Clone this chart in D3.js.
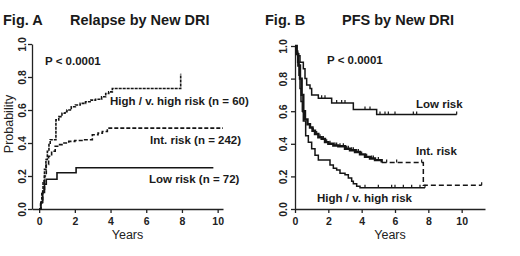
<!DOCTYPE html>
<html lang="en">
<head>
<meta charset="UTF-8">
<title>Relapse and PFS by New DRI</title>
<style>
    body { margin:0; background:#fff; }
    svg { display:block; font-family:"Liberation Sans", Arial, sans-serif; }
    .axis .domain, .axis line { stroke:#222; stroke-width:1.3; }
    .axis text { font-size:10.5px; font-weight:bold; fill:#222; }
</style>
</head>
<body>
<svg width="520" height="256"></svg>
<script src="https://d3js.org/d3.v7.min.js"></script>
<script>
// ---- data ----
var yTicks = [0, 0.2, 0.4, 0.6, 0.8, 1.0];
var xTicks = [0, 2, 4, 6, 8, 10];

// Fig A: cumulative relapse
var relHighT = [0, 0.08, 0.15, 0.22, 0.3, 0.38, 0.46, 0.55, 0.62, 0.94, 1.1, 1.28, 1.45, 1.56, 1.8, 2.03, 2.3, 2.6, 2.9, 3.16, 3.5, 3.73, 3.9, 4.1, 7.93];
var relHighV = [0, 0.03, 0.10, 0.17, 0.24, 0.30, 0.35, 0.39, 0.42, 0.54, 0.56, 0.58, 0.59, 0.60, 0.62, 0.63, 0.64, 0.65, 0.66, 0.665, 0.68, 0.70, 0.71, 0.73, 0.82];
var relIntT = [0, 0.1, 0.2, 0.3, 0.4, 0.53, 0.7, 0.9, 1.1, 1.28, 1.66, 2.0, 2.4, 2.98, 3.3, 3.54, 3.82, 10.3];
var relIntV = [0, 0.04, 0.12, 0.20, 0.27, 0.32, 0.35, 0.38, 0.39, 0.40, 0.41, 0.415, 0.42, 0.45, 0.46, 0.47, 0.49, 0.49];
var relLowT = [0, 0.1, 0.2, 0.3, 0.4, 1.0, 2.07, 9.76];
var relLowV = [0, 0.04, 0.10, 0.15, 0.18, 0.22, 0.25, 0.25];

// Fig B: progression free survival
var pfsLowT = [0, 0.1, 0.16, 0.3, 0.5, 0.6, 0.7, 0.9, 1.0, 1.4, 2.2, 3.5, 4.9, 9.7];
var pfsLowV = [1, 0.97, 0.94, 0.90, 0.86, 0.80, 0.76, 0.74, 0.70, 0.68, 0.65, 0.61, 0.58, 0.58];
var pfsLowCens = [1.6, 1.8, 2.5, 2.8, 3.0, 4.2, 4.5, 5.1, 5.4, 5.6, 6.0, 7.1, 7.3, 9.7];
var pfsIntT = [0, 0.1, 0.2, 0.3, 0.4, 0.5, 0.6, 0.75, 0.9, 1.05, 1.2, 1.4, 1.6, 1.8, 2.0, 2.3, 2.6, 3.0, 3.3, 3.6, 3.9, 4.2, 4.5, 4.8, 5.2, 7.7, 11.2];
var pfsIntV = [1, 0.95, 0.88, 0.80, 0.70, 0.60, 0.55, 0.52, 0.50, 0.48, 0.46, 0.44, 0.43, 0.41, 0.40, 0.39, 0.385, 0.37, 0.36, 0.35, 0.335, 0.32, 0.31, 0.30, 0.285, 0.145, 0.145];
var pfsIntCens = [1.1, 1.3, 1.5, 1.7, 1.9, 2.1, 2.4, 2.5, 2.7, 2.9, 3.1, 3.2, 3.4, 3.5, 3.7, 3.8, 4.0, 4.3, 4.6, 4.7, 5.0, 5.5, 6.1, 7.6, 11.2];
var pfsHighT = [0, 0.08, 0.16, 0.24, 0.3, 0.36, 0.44, 0.5, 0.64, 0.8, 1.0, 1.2, 1.4, 2.1, 2.3, 2.5, 2.7, 3.0, 3.2, 3.4, 3.5, 3.7, 3.9, 7.8];
var pfsHighV = [1, 0.96, 0.90, 0.82, 0.74, 0.66, 0.60, 0.54, 0.45, 0.41, 0.37, 0.33, 0.30, 0.27, 0.25, 0.24, 0.22, 0.21, 0.19, 0.17, 0.155, 0.14, 0.13, 0.13];
var pfsHighCens = [4.2, 5.0, 5.8, 6.0, 6.5, 7.0, 7.5, 7.8];

var svg = d3.select("svg");

function zip(t, v) { return t.map(function(d, i){ return [d, v[i]]; }); }

// value of a step curve at time t
function stepAt(t, v, x) {
    var i = d3.bisectRight(t, x) - 1;
    return v[Math.max(0, i)];
}

function panel(opt) {
    var x = d3.scaleLinear().domain(opt.xDomain).range(opt.xRange);
    var y = d3.scaleLinear().domain([0, 1]).range(opt.yRange);
    var g = svg.append("g");

    g.append("g")
        .attr("class", "axis")
        .attr("transform", "translate(0," + opt.yRange[0] + ")")
        .call(d3.axisBottom(x).tickValues(xTicks).tickSize(4).tickSizeOuter(0).tickPadding(3))
        .selectAll("text").attr("dy", "0.85em");

    var ya = g.append("g")
        .attr("class", "axis")
        .attr("transform", "translate(" + opt.xRange[0] + ",0)")
        .call(d3.axisLeft(y).tickValues(yTicks).tickSize(4).tickSizeOuter(0).tickFormat(d3.format(".1f")));
    ya.selectAll("text")
        .attr("x", null).attr("dy", null)
        .attr("text-anchor", "middle")
        .attr("transform", "translate(" + opt.yLabelX + ",0) rotate(-90)")
        .attr("dy", "0.35em");

    var line = d3.line()
        .x(function(d){ return x(d[0]); })
        .y(function(d){ return y(d[1]); })
        .curve(d3.curveStepAfter);

    opt.curves.forEach(function(c) {
        g.append("path")
            .datum(c.data)
            .attr("d", line)
            .attr("fill", "none")
            .attr("stroke", "#151515")
            .attr("stroke-width", c.width)
            .attr("stroke-dasharray", c.dash || null);
        if (c.cens) {
            g.selectAll(null)
                .data(c.cens)
                .enter().append("line")
                .attr("x1", function(d){ return x(d); })
                .attr("x2", function(d){ return x(d); })
                .attr("y1", function(d){ return y(stepAt(c.t, c.v, d)); })
                .attr("y2", function(d){ return y(stepAt(c.t, c.v, d)) - 3; })
                .attr("stroke", "#151515")
                .attr("stroke-width", 1.2);
        }
    });

    g.append("text")
        .attr("x", (opt.xRange[0] + opt.xRange[1]) / 2 + opt.yearsShift)
        .attr("y", 239)
        .attr("text-anchor", "middle")
        .attr("font-size", 12.5)
        .attr("fill", "#222")
        .text("Years");

    opt.labels.forEach(function(l) {
        g.append("text")
            .attr("x", l.x).attr("y", l.y)
            .attr("font-size", l.size || 11.5)
            .attr("font-weight", "bold")
            .attr("fill", "#1a1a1a")
            .text(l.text);
    });
}

panel({
    xDomain: [-0.4, 10.3], xRange: [32, 223], yRange: [209, 44], yLabelX: -10, yearsShift: 0,
    curves: [
        { data: zip(relHighT, relHighV), width: 1.6, dash: "3,1" },
        { data: zip(relIntT, relIntV), width: 1.6, dash: "4,2" },
        { data: zip(relLowT, relLowV), width: 1.6 }
    ],
    labels: [
        { text: "Fig. A", x: 3, y: 25, size: 14.5 },
        { text: "Relapse by New DRI", x: 70, y: 25, size: 14.5 },
        { text: "P < 0.0001", x: 45, y: 65 },
        { text: "High / v. high risk (n = 60)", x: 110, y: 105 },
        { text: "Int. risk (n = 242)", x: 150, y: 144 },
        { text: "Low risk (n = 72)", x: 149, y: 183 }
    ]
});

panel({
    xDomain: [0, 11.4], xRange: [295, 485], yRange: [209, 46], yLabelX: -12, yearsShift: 0,
    curves: [
        { data: zip(pfsLowT, pfsLowV), t: pfsLowT, v: pfsLowV, cens: pfsLowCens, width: 1.5 },
        { data: zip(pfsIntT, pfsIntV).filter(function(d){ return d[0] <= 5.2; }), t: pfsIntT, v: pfsIntV,
          cens: pfsIntCens, width: 2.4 },
        { data: zip(pfsIntT, pfsIntV).filter(function(d){ return d[0] >= 5.2; }), width: 1.5, dash: "5,3" },
        { data: zip(pfsHighT, pfsHighV), t: pfsHighT, v: pfsHighV, cens: pfsHighCens, width: 1.5 }
    ],
    labels: [
        { text: "Fig. B", x: 265, y: 25, size: 14.5 },
        { text: "PFS by New DRI", x: 342, y: 25, size: 14.5 },
        { text: "P < 0.0001", x: 327, y: 64 },
        { text: "Low risk", x: 416, y: 108 },
        { text: "Int. risk", x: 416, y: 155 },
        { text: "High / v. high risk", x: 317, y: 202 }
    ]
});

svg.append("text")
    .attr("transform", "translate(13,124) rotate(-90)")
    .attr("text-anchor", "middle")
    .attr("font-size", 12.5)
    .attr("fill", "#222")
    .text("Probability");
</script>
</body>
</html>
